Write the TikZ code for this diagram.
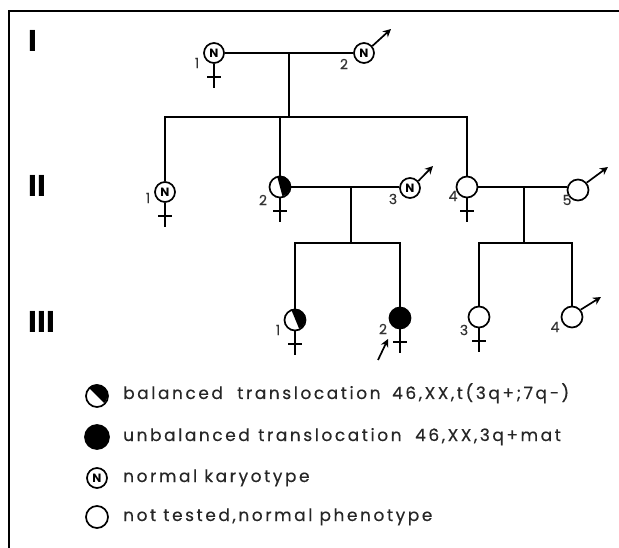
\documentclass[tikz,border=0pt]{standalone}
\usepackage{fontspec}
\setmainfont{Poppins}
\usetikzlibrary{calc,arrows.meta}
\newfontfamily\legfont[LetterSpace=15, FakeBold=0.4]{Poppins}
\newfontfamily\numfont[FakeBold=0.3]{Poppins}
\tikzset{
  person/.style={circle, draw, line width=1.7pt, inner sep=0pt, minimum size=21pt},
  nperson/.style={person, minimum size=20pt, font=\bfseries\fontsize{12}{12}\selectfont},
  lbl/.style={font=\numfont\fontsize{14}{14}\selectfont, text=black!80, inner sep=0pt},
  gen/.style={font=\bfseries\fontsize{30}{30}\selectfont, inner sep=0pt},
  leg/.style={font=\legfont\fontsize{17}{18}\selectfont, anchor=base west, inner sep=0pt, text=black!85},
  line/.style={line width=1.7pt},
  marr/.style={line width=1.7pt},
  arr/.style={line width=1.7pt, -{Stealth[length=8pt,width=8pt]}}
}
\newcommand{\femsym}[1]{\draw[line] (#1.south) -- ++(0,-24);\draw[line] ($(#1.south)+(-7,-13)$) -- ++(14,0);}
\newcommand{\malesym}[2]{\draw[arr] (#1.40) -- (#2);}
\newcommand{\balfill}[4]{\fill (#1.#3) arc[start angle=#3, end angle=#4, radius=#2pt] -- cycle;}
\begin{document}
\begin{tikzpicture}[x=1pt,y=1pt]
\useasboundingbox (0,0) rectangle (619,-548);
% frame
\draw[line width=1.8pt] (8,-11) -- (619,-11);
\draw[line width=1.6pt] (9,-11) -- (9,-548);
% generation labels
\node[gen] (g1) at (33,-41) {I};
\node[gen] (g2) at (37,-186) {II};
\node[gen] (g3) at (42,-322) {III};
% generation I
\node[nperson] (i1) at (214,-53) {N};
\node[nperson] (i2) at (364,-53) {N};
\node[lbl] (l-i1) at (197,-63) {1};
\node[lbl] (l-i2) at (344,-64) {2};
\femsym{i1}
\coordinate (a-i2) at (391,-29);
\malesym{i2}{a-i2}
\draw[marr] (i1) -- (i2);
\coordinate (m1) at (289,-53);
\coordinate (s1) at (289,-117);
\draw[line] (m1) -- (s1);
% generation II
\node[nperson] (ii1) at (165,-192) {N};
\node[person] (ii2) at (280,-187) {};
\balfill{ii2}{10.5}{105}{-75}
\node[nperson] (ii3) at (410,-188) {N};
\node[person] (ii4) at (467,-187) {};
\node[person] (ii5) at (578,-190) {};
\node[lbl] (l-ii1) at (148,-198) {1};
\node[lbl] (l-ii2) at (263,-200) {2};
\node[lbl] (l-ii3) at (393,-199) {3};
\node[lbl] (l-ii4) at (453,-196) {4};
\node[lbl] (l-ii5) at (567,-200) {5};
\draw[line] (ii1.north) -- (ii1.north |- s1) -- (ii4.north |- s1) -- (ii4.north);
\draw[line] (ii2.north) -- (ii2.north |- s1);
\femsym{ii1}
\femsym{ii2}
\femsym{ii4}
\coordinate (a-ii3) at (433,-166);
\coordinate (a-ii5) at (608,-167);
\malesym{ii3}{a-ii3}
\malesym{ii5}{a-ii5}
\draw[marr] (ii2.east) -- (ii3.west |- ii2.east);
\draw[marr] (ii4.east) -- (ii5.west |- ii4.east);
\coordinate (m2) at (351,-187);
\coordinate (s2) at (351,-243);
\coordinate (m3) at (524,-187);
\coordinate (s3) at (524,-243);
\draw[line] (m2) -- (s2);
\draw[line] (m3) -- (s3);
% generation III
\node[person] (iii1) at (295,-320) {};
\balfill{iii1}{10.5}{110}{-65}
\node[person, fill=black] (iii2) at (400,-318) {};
\node[person] (iii3) at (479,-317) {};
\node[person] (iii4) at (572,-317) {};
\node[lbl] (l-iii1) at (278,-330) {1};
\node[lbl] (l-iii2) at (383,-329) {2};
\node[lbl] (l-iii3) at (464,-330) {3};
\node[lbl] (l-iii4) at (555,-327) {4};
\draw[line] (iii1.north) -- (iii1.north |- s2) -- (iii2.north |- s2) -- (iii2.north);
\draw[line] (iii3.north) -- (iii3.north |- s3) -- (iii4.north |- s3) -- (iii4.north);
\femsym{iii1}
\femsym{iii2}
\femsym{iii3}
\coordinate (a-iii4) at (601,-297);
\malesym{iii4}{a-iii4}
\coordinate (pb0) at (378,-360);
\coordinate (pb1) at (388,-339);
\draw[arr] (pb0) -- (pb1);
% legend
\node[person, minimum size=22pt] (k1) at (97,-396) {};
\balfill{k1}{11}{135}{-45}
\node[person, minimum size=24pt, fill=black] (k2) at (97,-437) {};
\node[nperson, minimum size=20pt, font=\bfseries\fontsize{12}{12}\selectfont] (k3) at (97,-478) {N};
\node[person, minimum size=22pt] (k4) at (97,-517) {};
\node[leg] (t1a) at (123,-399) {balanced};
\node[leg] (t1b) at (237,-399) {translocation};
\node[leg] (t1c) at (392,-399) {46,XX,t(3q+;7q−)};
\node[leg] (t2a) at (123,-441) {unbalanced};
\node[leg] (t2b) at (258,-441) {translocation};
\node[leg] (t2c) at (415,-441) {46,XX,3q+mat};
\node[leg] (t3) at (123,-482) {normal karyotype};
\node[leg] (t4) at (123,-521) {not tested,normal phenotype};
\end{tikzpicture}
\end{document}
